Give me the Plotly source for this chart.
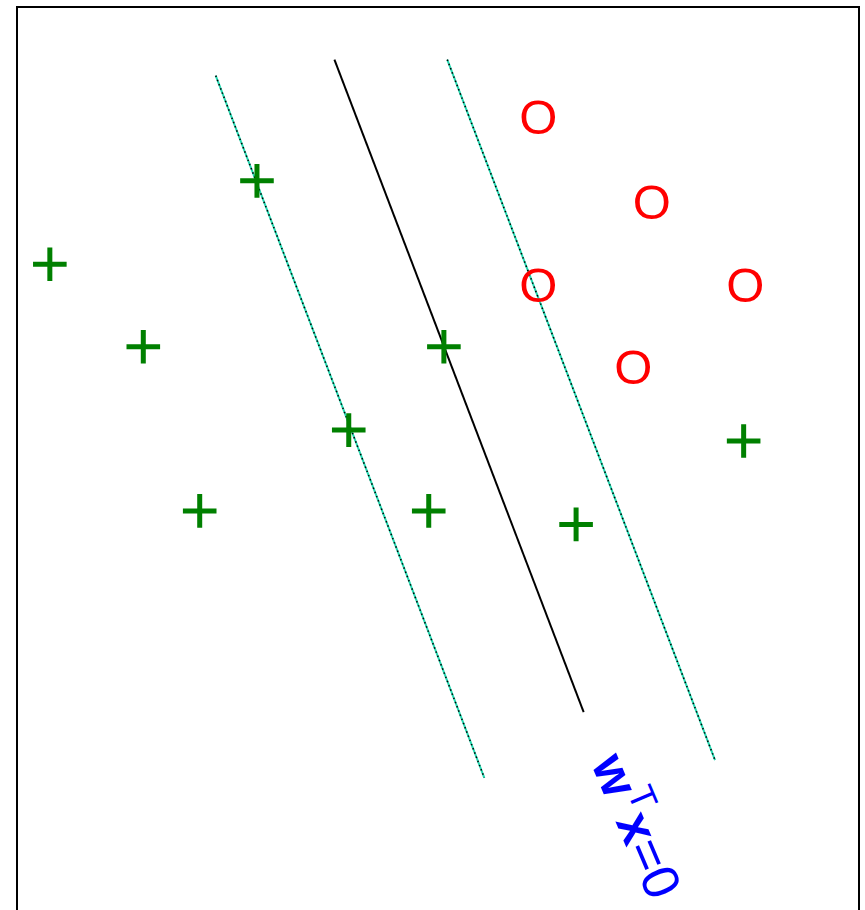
import plotly.graph_objects as go

# Class "+" points
plus_x = [0.39, 1.50, 2.85, 2.17, 3.94, 5.07, 4.89, 6.64, 8.63]
plus_y = [7.67, 6.69, 8.66, 4.74, 5.70, 6.69, 4.74, 4.58, 5.57]

# Class "O" points
o_x = [6.19, 7.54, 6.19, 8.65, 7.32]
o_y = [9.36, 8.35, 7.37, 7.37, 6.39]

# Decision boundary and margins (endpoints)
bound_x = [3.77, 6.73]
bound_y = [10.10, 2.35]
margin1_x = [2.36, 5.55]
margin1_y = [9.91, 1.57]
margin2_x = [5.11, 8.29]
margin2_y = [10.10, 1.78]

label = "<b>w</b><sup>T</sup><b>x</b>=0"

fig = go.Figure()

for mx, my in [(margin1_x, margin1_y), (margin2_x, margin2_y)]:
    fig.add_trace(go.Scatter(x=mx, y=my, mode="lines",
                             line=dict(color="#22d8b0", width=2),
                             hoverinfo="skip", showlegend=False))
    fig.add_trace(go.Scatter(x=mx, y=my, mode="lines",
                             line=dict(color="black", width=1.5, dash="1.5px,3px"),
                             hoverinfo="skip", showlegend=False))

fig.add_trace(go.Scatter(x=bound_x, y=bound_y, mode="lines",
                         line=dict(color="black", width=2),
                         hoverinfo="skip", showlegend=False))

fig.add_trace(go.Scatter(x=plus_x, y=plus_y, mode="markers",
                         marker=dict(symbol="cross-thin", size=24,
                                     line=dict(color="#008000", width=5)),
                         showlegend=False))

fig.add_trace(go.Scatter(x=o_x, y=o_y, mode="text", text=["O"] * len(o_x),
                         textposition="middle center",
                         textfont=dict(family="Liberation Sans", size=49, color="red"),
                         showlegend=False))

fig.add_annotation(x=7.40, y=1.02, xref="x", yref="y", text=label,
                   showarrow=False, textangle=67,
                   font=dict(family="Liberation Sans", size=52, color="blue"),
                   xanchor="center", yanchor="middle")

fig.add_shape(type="path", xref="paper", yref="paper",
              path="M 0 0 L 0 1 L 1 1 L 1 0",
              line=dict(color="black", width=2))

fig.update_xaxes(range=[0, 10], visible=False, fixedrange=True)
fig.update_yaxes(range=[0, 10.725], visible=False, fixedrange=True)
fig.update_layout(width=865, height=910,
                  margin=dict(l=17, r=6, t=7, b=0),
                  paper_bgcolor="white", plot_bgcolor="white")

fig.write_html("out.html", config={"displayModeBar": False},
               post_script="document.body.style.margin='0';document.body.style.overflow='hidden';")
